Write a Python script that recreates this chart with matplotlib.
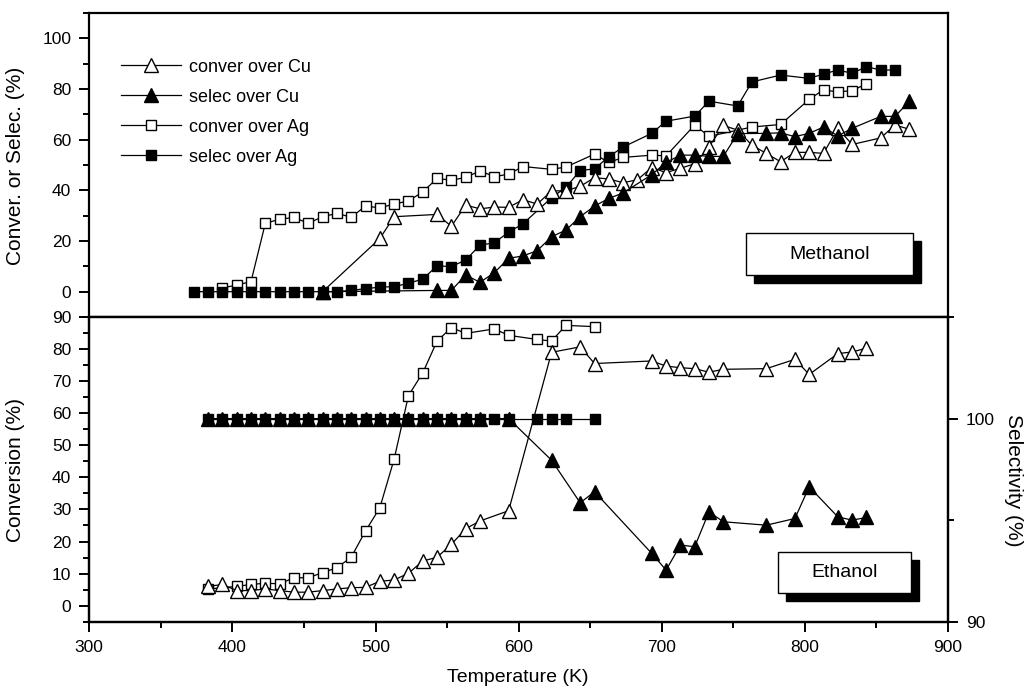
import matplotlib
matplotlib.use("Agg")
import matplotlib.pyplot as plt
from matplotlib.patches import Rectangle
from matplotlib.ticker import MultipleLocator

plt.rcParams['font.family'] = ['Liberation Sans', 'DejaVu Sans']

# ============================================================
# DATA - methanol (top panel)
# ============================================================
t_conv_cu_m = [463, 503, 513, 543, 553, 563, 573, 583, 593, 603,
               613, 623, 633, 643, 653, 663, 673, 683, 693, 703,
               713, 723, 733, 743, 753, 763, 773, 783, 793, 803,
               813, 823, 833, 853, 863, 873]
conv_cu_m = [0, 21, 29.6, 30.5, 25.8, 34.2, 32.7, 33.4, 33.3, 36.3,
             34.6, 39.8, 39.8, 41.6, 45, 44.5, 43, 44.2, 49, 47,
             48.7, 50.5, 57.2, 65.6, 63.8, 57.8, 54.6, 51.3, 55, 55,
             54.6, 64.5, 58.1, 60.7, 65.8, 64.1]

t_sel_cu_m = [463, 543, 553, 563, 573, 583, 593, 603, 613, 623,
              633, 643, 653, 663, 673, 693, 703, 713, 723, 733,
              743, 753, 773, 783, 793, 803, 813, 823, 833, 853,
              863, 873]
sel_cu_m = [0, 0.5, 0.5, 6.6, 3.7, 7.5, 13.2, 14.1, 16.2, 21.7,
            24.3, 29.6, 33.8, 36.8, 39, 46.2, 51, 53.9, 53.9, 53.4,
            53.4, 62.4, 62.5, 62.7, 61.2, 62.5, 65, 61.5, 64.5, 69.2,
            69.2, 75.2]

t_conv_ag_m = [393, 403, 413, 423, 433, 443, 453, 463, 473, 483,
               493, 503, 513, 523, 533, 543, 553, 563, 573, 583,
               593, 603, 623, 633, 653, 663, 673, 693, 703, 723,
               733, 763, 783, 803, 813, 823, 833, 843]
conv_ag_m = [1.5, 2.6, 4, 27, 28.6, 29.3, 27, 29.6, 30.9, 29.4,
             33.8, 33.1, 34.6, 35.8, 39.4, 44.7, 44, 45.1, 47.7, 45.4,
             46.4, 49.4, 48.3, 49.2, 54.3, 51, 53, 53.9, 53.6, 65.8,
             61.3, 65, 66, 75.9, 79.7, 78.8, 79.4, 82]

t_sel_ag_m = [373, 383, 393, 403, 413, 423, 433, 443, 453, 463,
              473, 483, 493, 503, 513, 523, 533, 543, 553, 563,
              573, 583, 593, 603, 623, 633, 643, 653, 663, 673,
              693, 703, 723, 733, 753, 763, 783, 803, 813, 823,
              833, 843, 853, 863]
sel_ag_m = [0, 0, 0, 0, 0, 0, 0, 0, 0, 0,
            0, 0.5, 1.2, 1.8, 2, 3.3, 5, 10.2, 9.9, 12.5,
            18.4, 19.3, 23.5, 26.8, 37.1, 41.2, 47.8, 48.5, 53.3, 57.1,
            62.5, 67.3, 69.3, 75.2, 73.3, 82.8, 85.5, 84.2, 85.9, 87.5,
            86.2, 88.8, 87.5, 87.5]

# ============================================================
# DATA - ethanol (bottom panel)
# ============================================================
t_conv_cu_e = [383, 393, 403, 413, 423, 433, 443, 453, 463, 473,
               483, 493, 503, 513, 523, 533, 543, 553, 563, 573,
               593, 623, 643, 653, 693, 703, 713, 723, 733, 743,
               773, 793, 803, 823, 833, 843]
conv_cu_e = [6, 6.6, 4.7, 4.7, 5.2, 4.7, 4.2, 4.2, 4.7, 5.2,
             5.6, 5.7, 7.6, 8, 10.1, 13.9, 15.1, 19.1, 24, 26.4,
             29.6, 79, 80.7, 75.5, 76.3, 74.7, 74.2, 73.9, 72.8, 73.7,
             73.9, 76.8, 72.1, 78.6, 79.1, 80.3]

t_conv_ag_e = [383, 403, 413, 423, 433, 443, 453, 463, 473, 483,
               493, 503, 513, 523, 533, 543, 553, 563, 583, 593,
               613, 623, 633, 653]
conv_ag_e = [5.2, 6, 6.6, 7, 6.8, 8.7, 8.7, 10.3, 11.8, 15.1,
             23.3, 30.5, 45.7, 65.5, 72.6, 82.5, 86.7, 84.9, 86.3, 84.3,
             83, 82.5, 87.4, 87]

# selectivity on the right axis
t_sel_cu_e = [383, 393, 403, 413, 423, 433, 443, 453, 463, 473,
              483, 493, 503, 513, 523, 533, 543, 553, 563, 573,
              593, 623, 643, 653, 693, 703, 713, 723, 733, 743,
              773, 793, 803, 823, 833, 843]
sel_cu_e = [100, 100, 100, 100, 100, 100, 100, 100, 100, 100,
            100, 100, 100, 100, 100, 100, 100, 100, 100, 100,
            100, 97.95, 95.85, 96.4, 93.36, 92.54, 93.77, 93.69, 95.41, 94.92,
            94.75, 95.08, 96.64, 95.16, 95.0, 95.13]

t_sel_ag_e = [383, 393, 403, 413, 423, 433, 443, 453, 463, 473,
              483, 493, 503, 513, 523, 533, 543, 553, 563, 573,
              583, 593, 613, 623, 633, 653]
sel_ag_e = [100] * 26

# ============================================================
# STYLES
# ============================================================
open_tri = dict(color="black", lw=0.9, marker="^", ms=10,
                mfc="white", mec="black", mew=1.0)
fill_tri = dict(color="black", lw=0.9, marker="^", ms=10,
                mfc="black", mec="black", mew=1.0)
open_sq = dict(color="black", lw=0.9, marker="s", ms=7.5,
               mfc="white", mec="black", mew=1.0)
fill_sq = dict(color="black", lw=0.9, marker="s", ms=7.5,
               mfc="black", mec="black", mew=1.0)

fig = plt.figure(figsize=(10.24, 6.88), dpi=100)
ax_top = fig.add_axes([0.0872, 0.5392, 0.8386, 0.4419])
ax_bot = fig.add_axes([0.0872, 0.0964, 0.8386, 0.4428])
ax_sel = ax_bot.twinx()

# ============================================================
# TOP PANEL - METHANOL
# ============================================================
l_cag, = ax_top.plot(t_conv_ag_m, conv_ag_m, **open_sq)
l_sag, = ax_top.plot(t_sel_ag_m, sel_ag_m, **fill_sq)
l_ccu, = ax_top.plot(t_conv_cu_m, conv_cu_m, **open_tri)
l_scu, = ax_top.plot(t_sel_cu_m, sel_cu_m, **fill_tri)

ax_top.set_xlim(300, 900)
ax_top.set_ylim(-10, 110)
ax_top.yaxis.set_major_locator(MultipleLocator(20))
ax_top.yaxis.set_minor_locator(MultipleLocator(10))
ax_top.tick_params(axis="x", which="both", bottom=False, labelbottom=False)

leg = ax_top.legend(
    [l_ccu, l_scu, l_cag, l_sag],
    ["conver over Cu", "selec over Cu", "conver over Ag", "selec over Ag"],
    loc="upper left", bbox_to_anchor=(0.037, 0.85),
    frameon=False, fontsize=13, numpoints=1,
    handlelength=3.3, handletextpad=0.45, labelspacing=0.72,
    borderpad=0, borderaxespad=0)

# ============================================================
# BOTTOM PANEL - ETHANOL
# ============================================================
ax_bot.plot(t_conv_ag_e, conv_ag_e, **open_sq)
ax_bot.plot(t_conv_cu_e, conv_cu_e, **open_tri)
ax_sel.plot(t_sel_ag_e, sel_ag_e, **fill_sq)
ax_sel.plot(t_sel_cu_e, sel_cu_e, **fill_tri)

ax_bot.set_xlim(300, 900)
ax_bot.set_ylim(-5, 90)
ax_sel.set_ylim(90, 105)
ax_bot.xaxis.set_major_locator(MultipleLocator(100))
ax_bot.xaxis.set_minor_locator(MultipleLocator(50))
ax_bot.yaxis.set_major_locator(MultipleLocator(10))
ax_bot.yaxis.set_minor_locator(MultipleLocator(5))
ax_sel.yaxis.set_major_locator(MultipleLocator(10))
ax_sel.yaxis.set_minor_locator(MultipleLocator(5))

# ============================================================
# AXIS SETTINGS
# ============================================================
for ax in (ax_top, ax_bot, ax_sel):
    for sp in ax.spines.values():
        sp.set_linewidth(1.6)
    ax.tick_params(which="major", direction="out", length=7, width=1.4,
                   labelsize=12.5, pad=6)
    ax.tick_params(which="minor", direction="out", length=4, width=1.4)

ax_top.tick_params(axis="y", which="both", right=False)
ax_bot.tick_params(axis="y", which="both", right=False)

# ============================================================
# LABEL BOXES WITH SHADOW
# ============================================================
def shadow_box(ax, x0, y0, w, h, dx, dy, text):
    ax.add_patch(Rectangle((x0 + dx, y0 - dy), w, h, transform=ax.transAxes,
                           facecolor="black", edgecolor="black",
                           clip_on=False, zorder=5))
    ax.add_patch(Rectangle((x0, y0), w, h, transform=ax.transAxes,
                           facecolor="white", edgecolor="black", lw=1.0,
                           clip_on=False, zorder=6))
    ax.text(x0 + w / 2, y0 + h / 2, text, transform=ax.transAxes,
            ha="center", va="center", fontsize=14, zorder=7)


shadow_box(ax_top, 0.7648, 0.1382, 0.1944, 0.138, 0.0093, 0.0263, "Methanol")
shadow_box(ax_sel, 0.8017, 0.0932, 0.1552, 0.1346, 0.0093, 0.0263, "Ethanol")

# ============================================================
# AXIS TITLES
# ============================================================
fig.text(16 / 1024, 1 - 166 / 688, "Conver. or Selec. (%)", rotation=90,
         ha="center", va="center", fontsize=15)
fig.text(16 / 1024, 1 - 470 / 688, "Conversion (%)", rotation=90,
         ha="center", va="center", fontsize=15)
fig.text(1013 / 1024, 1 - 480 / 688, "Selectivity (%)", rotation=270,
         ha="center", va="center", fontsize=15)
fig.text(518 / 1024, 1 - 677 / 688, "Temperature (K)",
         ha="center", va="center", fontsize=14)

fig.savefig("out.png", dpi=100, facecolor="white")
